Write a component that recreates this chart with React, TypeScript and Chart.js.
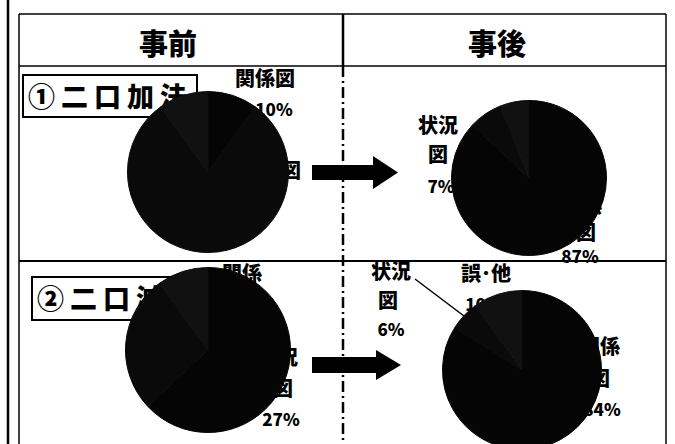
import React, { useEffect, useRef } from 'react';
import { Chart, registerables } from 'chart.js';
Chart.register(...registerables);

// ---- data ----
const categories = ['関係図', '状況図', '誤･他'];
const before1 = [10, 80, 10];
const after1 = [87, 7, 6];
const before2 = [63, 27, 10];
const after2 = [84, 6, 10];
const sliceColors = ['#050505', '#0a0a0a', '#111111'];
const headers = ['事前', '事後'];
const rowTitles = ['①二口加法', '②二口減法'];

const FONT = '"Noto Sans CJK JP", "Noto Sans", sans-serif';

function Pie({ values, cx, cy, r }: { values: number[]; cx: number; cy: number; r: number }) {
  const ref = useRef<HTMLCanvasElement | null>(null);
  useEffect(() => {
    if (!ref.current) return;
    const chart = new Chart(ref.current, {
      type: 'pie',
      data: {
        labels: categories,
        datasets: [{ data: values, backgroundColor: sliceColors, borderColor: sliceColors, borderWidth: 1 }],
      },
      options: {
        responsive: false,
        maintainAspectRatio: false,
        animation: false,
        devicePixelRatio: 1,
        layout: { padding: 0 },
        plugins: { legend: { display: false }, tooltip: { enabled: false } },
      },
    });
    return () => chart.destroy();
  }, [values]);
  const size = 2 * r;
  return (
    <canvas
      ref={ref}
      width={size}
      height={size}
      style={{ position: 'absolute', left: cx - r, top: cy - r, width: size, height: size, zIndex: 2 }}
    />
  );
}

function Label({ text, cx, top, size = 20 }: { text: string; cx: number; top: number; size?: number }) {
  return (
    <div
      style={{
        position: 'absolute',
        left: cx - 60,
        width: 120,
        top,
        textAlign: 'center',
        fontFamily: FONT,
        fontWeight: 900,
        fontSize: size,
        lineHeight: `${size + 4}px`,
        color: '#000',
        zIndex: 1,
        whiteSpace: 'nowrap',
      }}
    >
      {text}
    </div>
  );
}

export default function App() {
  const pct = (v: number) => `${v}%`;
  return (
    <div
      style={{
        position: 'fixed',
        left: 0,
        top: 0,
        width: 675,
        height: 444,
        background: '#fff',
        overflow: 'hidden',
      }}
    >
      <svg width={675} height={444} style={{ position: 'absolute', left: 0, top: 0, zIndex: 0 }}>
        <line x1={8} y1={0} x2={8} y2={444} stroke="#000" strokeWidth={2.5} />
        <line x1={19} y1={14} x2={666} y2={14} stroke="#000" strokeWidth={1.5} />
        <line x1={19} y1={14} x2={19} y2={444} stroke="#000" strokeWidth={1.5} />
        <line x1={666} y1={14} x2={666} y2={444} stroke="#000" strokeWidth={1.5} />
        <line x1={19} y1={66} x2={666} y2={66} stroke="#000" strokeWidth={1.5} />
        <line x1={19} y1={261} x2={666} y2={261} stroke="#000" strokeWidth={2} />
        <line x1={343} y1={14} x2={343} y2={66} stroke="#000" strokeWidth={2.5} />
        <line x1={343} y1={66} x2={343} y2={444} stroke="#000" strokeWidth={2.5} strokeDasharray="11 4 2 4" />
        <rect x={23} y={75} width={174} height={42} fill="#fff" stroke="#000" strokeWidth={2} />
        <rect x={32} y={277} width={174} height={43} fill="#fff" stroke="#000" strokeWidth={2} />
        {/* arrows */}
        <rect x={312} y={165} width={63} height={15} fill="#000" />
        <polygon points="373,156 398,172.5 373,189" fill="#000" />
        <rect x={312} y={357} width={66} height={16} fill="#000" />
        <polygon points="376,350 401,365 376,380" fill="#000" />
        {/* leader line */}
        <line x1={415} y1={279} x2={464} y2={316} stroke="#000" strokeWidth={1.5} />
      </svg>

      {/* headers */}
      <div style={{ position: 'absolute', left: 108, width: 120, top: 24, textAlign: 'center', fontFamily: FONT, fontWeight: 900, fontSize: 29, lineHeight: '36px', zIndex: 1 }}>{headers[0]}</div>
      <div style={{ position: 'absolute', left: 437, width: 120, top: 24, textAlign: 'center', fontFamily: FONT, fontWeight: 900, fontSize: 29, lineHeight: '36px', zIndex: 1 }}>{headers[1]}</div>

      {/* row titles */}
      <div style={{ position: 'absolute', left: 28, top: 78, fontFamily: FONT, fontWeight: 900, fontSize: 27, lineHeight: '36px', letterSpacing: 6, zIndex: 1, whiteSpace: 'nowrap' }}>{rowTitles[0]}</div>
      <div style={{ position: 'absolute', left: 37, top: 280, fontFamily: FONT, fontWeight: 900, fontSize: 27, lineHeight: '36px', letterSpacing: 6, zIndex: 1, whiteSpace: 'nowrap' }}>{rowTitles[1]}</div>

      {/* row 1 before labels */}
      <Label text={categories[0]} cx={265} top={66} />
      <Label text={pct(before1[0])} cx={274} top={98} size={17} />
      <Label text={categories[1]} cx={271} top={158} />

      {/* row 1 after labels */}
      <Label text="状況" cx={438} top={113} />
      <Label text="図" cx={438} top={142} />
      <Label text={pct(after1[1])} cx={441} top={175} size={17} />
      <Label text="関係" cx={582} top={194} />
      <Label text="図" cx={586} top={220} />
      <Label text={pct(after1[0])} cx={580} top={245} size={17} />

      {/* row 2 before labels */}
      <Label text="関係" cx={242} top={261} />
      <Label text="図" cx={242} top={290} />
      <Label text={pct(before2[0])} cx={242} top={318} size={17} />
      <Label text="状況" cx={278} top={345} />
      <Label text="図" cx={283} top={376} />
      <Label text={pct(before2[1])} cx={281} top={408} size={17} />

      {/* row 2 after labels */}
      <Label text="状況" cx={391} top={259} />
      <Label text="図" cx={388} top={288} />
      <Label text={pct(after2[1])} cx={391} top={318} size={17} />
      <Label text={categories[2]} cx={486} top={261} />
      <Label text={pct(after2[2])} cx={484} top={293} size={17} />
      <Label text="関係" cx={600} top={334} />
      <Label text="図" cx={600} top={366} />
      <Label text={pct(after2[0])} cx={602} top={398} size={17} />

      {/* pies */}
      <Pie values={before1} cx={208} cy={172} r={81} />
      <Pie values={after1} cx={529} cy={178} r={78} />
      <Pie values={before2} cx={208} cy={350} r={83} />
      <Pie values={after2} cx={522} cy={370} r={80} />
    </div>
  );
}
